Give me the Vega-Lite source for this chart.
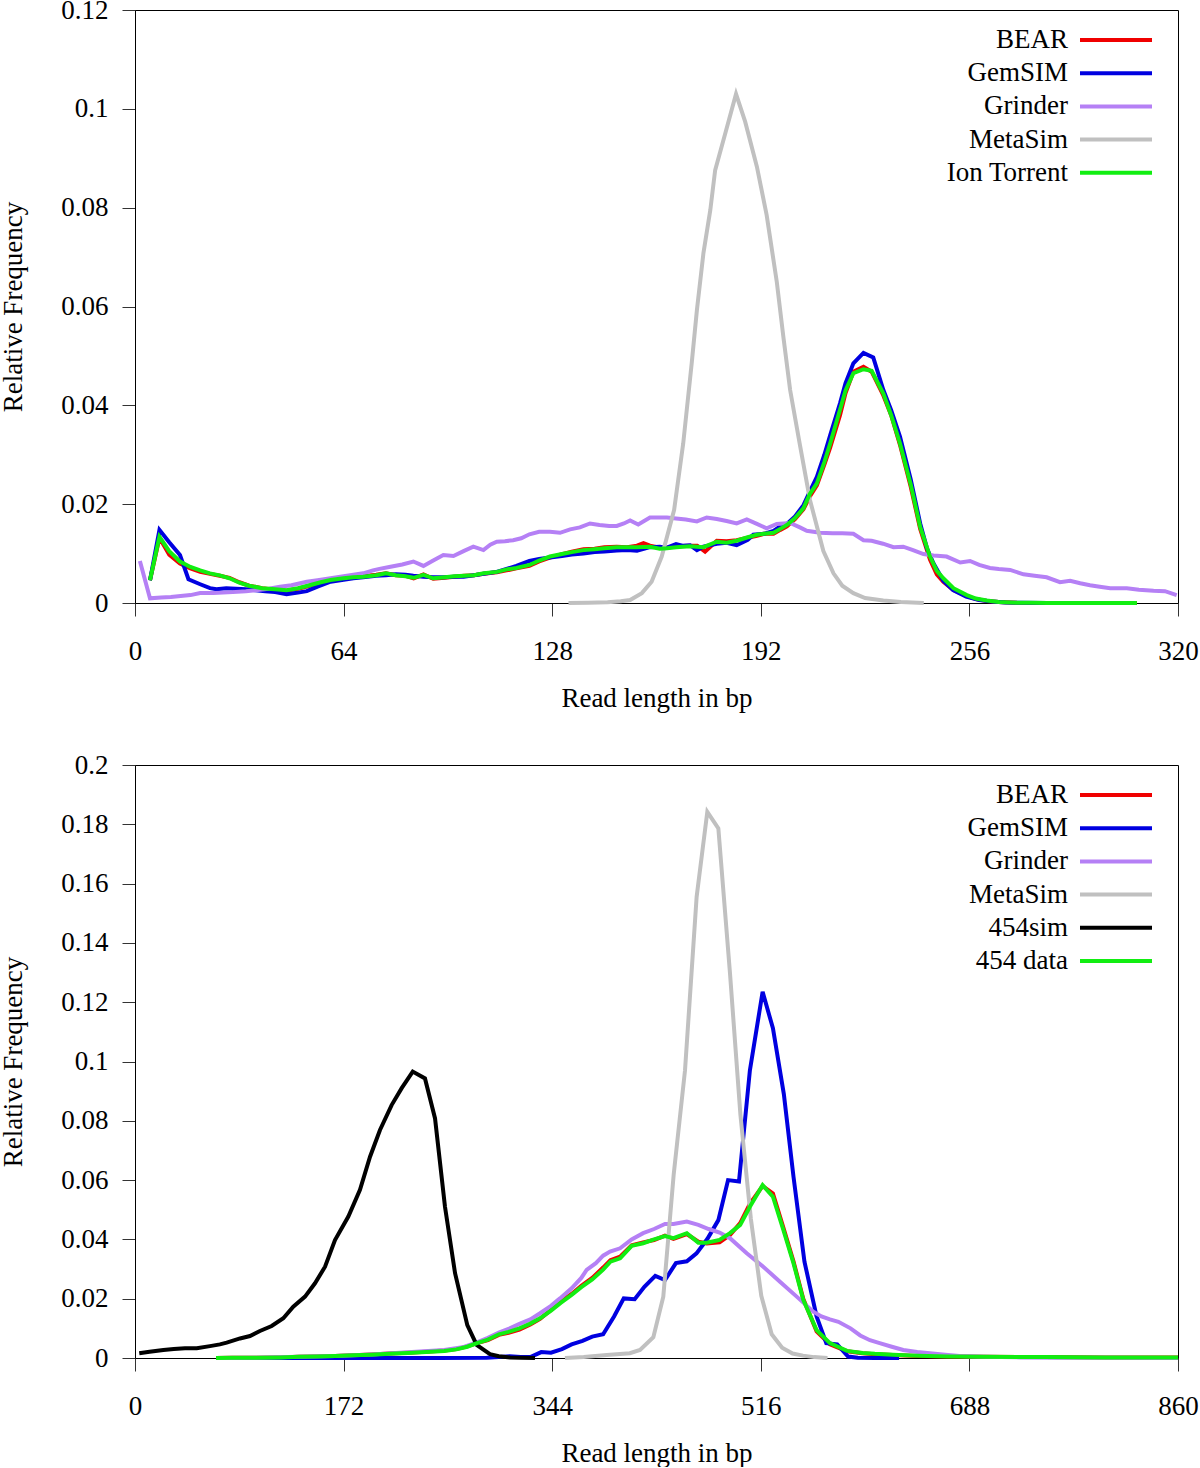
{
"$schema":"https://vega.github.io/schema/vega-lite/v6.json",
"padding":{"left":-1,"top":-5,"right":0,"bottom":0},
"config":{
 "font":"Liberation Serif",
 "view":{"stroke":"black","strokeWidth":1},
 "axis":{"grid":false,"domainColor":"black","tickColor":"#333","labelColor":"black","titleColor":"black","labelFontSize":27,"titleFontSize":27,"titleFontWeight":"normal","labelFont":"Liberation Serif","titleFont":"Liberation Serif","tickSize":13,"domainWidth":1,"tickWidth":1},
 "axisX":{"labelPadding":22,"titlePadding":21,"labelFlush":false},
 "axisY":{"labelPadding":14,"titlePadding":33},
 "legend":{"orient":"none","legendX":967,"legendY":16,"symbolType":"M-3,0L3,0","symbolSize":576,"symbolStrokeWidth":4,"labelAlign":"right","labelOffset":-62,"labelFontSize":27,"labelFont":"Liberation Serif","labelColor":"black","rowPadding":6.2,"padding":0,"labelLimit":0}
},
"datasets":{
"top":[
{"s":"BEAR","x":4.6,"y":0.0046},{"s":"BEAR","x":7.5,"y":0.0132},{"s":"BEAR","x":10.5,"y":0.0098},{"s":"BEAR","x":13.8,"y":0.008},{"s":"BEAR","x":17,"y":0.007},{"s":"BEAR","x":20,"y":0.0063},{"s":"BEAR","x":23,"y":0.0059},{"s":"BEAR","x":26,"y":0.0055},{"s":"BEAR","x":29,"y":0.0051},{"s":"BEAR","x":32,"y":0.0042},{"s":"BEAR","x":35,"y":0.0035},{"s":"BEAR","x":39,"y":0.003},{"s":"BEAR","x":43,"y":0.0027},{"s":"BEAR","x":46.5,"y":0.0025},{"s":"BEAR","x":50,"y":0.0029},{"s":"BEAR","x":53,"y":0.0034},{"s":"BEAR","x":57,"y":0.0041},{"s":"BEAR","x":60,"y":0.0046},{"s":"BEAR","x":64,"y":0.005},{"s":"BEAR","x":67,"y":0.0052},{"s":"BEAR","x":70,"y":0.0054},{"s":"BEAR","x":74,"y":0.0057},{"s":"BEAR","x":77,"y":0.006},{"s":"BEAR","x":80,"y":0.0056},{"s":"BEAR","x":83,"y":0.0055},{"s":"BEAR","x":85.5,"y":0.005},{"s":"BEAR","x":88.5,"y":0.0058},{"s":"BEAR","x":91.5,"y":0.0049},{"s":"BEAR","x":95,"y":0.0051},{"s":"BEAR","x":98,"y":0.0053},{"s":"BEAR","x":101,"y":0.0055},{"s":"BEAR","x":104,"y":0.0056},{"s":"BEAR","x":107,"y":0.0059},{"s":"BEAR","x":111,"y":0.0062},{"s":"BEAR","x":114,"y":0.0066},{"s":"BEAR","x":117,"y":0.007},{"s":"BEAR","x":121,"y":0.0075},{"s":"BEAR","x":124,"y":0.0084},{"s":"BEAR","x":127.3,"y":0.0092},{"s":"BEAR","x":131,"y":0.0099},{"s":"BEAR","x":134,"y":0.0104},{"s":"BEAR","x":137.6,"y":0.0109},{"s":"BEAR","x":141,"y":0.011},{"s":"BEAR","x":144,"y":0.0113},{"s":"BEAR","x":147.8,"y":0.0114},{"s":"BEAR","x":151,"y":0.0113},{"s":"BEAR","x":154,"y":0.0116},{"s":"BEAR","x":156,"y":0.0121},{"s":"BEAR","x":158,"y":0.0116},{"s":"BEAR","x":161,"y":0.0112},{"s":"BEAR","x":163.2,"y":0.0112},{"s":"BEAR","x":166,"y":0.0115},{"s":"BEAR","x":170.3,"y":0.0116},{"s":"BEAR","x":172.5,"y":0.0116},{"s":"BEAR","x":174.9,"y":0.0104},{"s":"BEAR","x":178.5,"y":0.0126},{"s":"BEAR","x":181.5,"y":0.0125},{"s":"BEAR","x":184.6,"y":0.0127},{"s":"BEAR","x":188,"y":0.0132},{"s":"BEAR","x":190.8,"y":0.0136},{"s":"BEAR","x":193,"y":0.014},{"s":"BEAR","x":195.9,"y":0.014},{"s":"BEAR","x":198,"y":0.0148},{"s":"BEAR","x":200,"y":0.0155},{"s":"BEAR","x":202.5,"y":0.017},{"s":"BEAR","x":205.1,"y":0.019},{"s":"BEAR","x":207,"y":0.0215},{"s":"BEAR","x":209.2,"y":0.0238},{"s":"BEAR","x":211.5,"y":0.028},{"s":"BEAR","x":213.3,"y":0.0315},{"s":"BEAR","x":216.3,"y":0.038},{"s":"BEAR","x":218,"y":0.0425},{"s":"BEAR","x":220.4,"y":0.0468},{"s":"BEAR","x":223.5,"y":0.0478},{"s":"BEAR","x":226,"y":0.0468},{"s":"BEAR","x":229.6,"y":0.042},{"s":"BEAR","x":232,"y":0.038},{"s":"BEAR","x":234.7,"y":0.032},{"s":"BEAR","x":238,"y":0.0235},{"s":"BEAR","x":240.9,"y":0.015},{"s":"BEAR","x":243.9,"y":0.0088},{"s":"BEAR","x":246,"y":0.0058},{"s":"BEAR","x":248,"y":0.0043},{"s":"BEAR","x":251.1,"y":0.0026},{"s":"BEAR","x":255.2,"y":0.0014},{"s":"BEAR","x":258,"y":0.0008},{"s":"BEAR","x":261.3,"y":0.0004},{"s":"BEAR","x":265,"y":0.0002},{"s":"BEAR","x":270.5,"y":0.00005},{"s":"BEAR","x":280,"y":0.00001},{"s":"BEAR","x":290,"y":0},{"s":"BEAR","x":307.4,"y":0},
{"s":"GemSIM","x":4.6,"y":0.0046},{"s":"GemSIM","x":7.5,"y":0.0148},{"s":"GemSIM","x":10.5,"y":0.0123},{"s":"GemSIM","x":13.8,"y":0.0097},{"s":"GemSIM","x":16.4,"y":0.0048},{"s":"GemSIM","x":20,"y":0.0038},{"s":"GemSIM","x":23,"y":0.003},{"s":"GemSIM","x":25,"y":0.0028},{"s":"GemSIM","x":28,"y":0.003},{"s":"GemSIM","x":31,"y":0.0029},{"s":"GemSIM","x":34,"y":0.0028},{"s":"GemSIM","x":37,"y":0.0026},{"s":"GemSIM","x":40,"y":0.0024},{"s":"GemSIM","x":43,"y":0.0022},{"s":"GemSIM","x":46.5,"y":0.0018},{"s":"GemSIM","x":50,"y":0.0021},{"s":"GemSIM","x":52.7,"y":0.0024},{"s":"GemSIM","x":56,"y":0.0033},{"s":"GemSIM","x":60,"y":0.0043},{"s":"GemSIM","x":64,"y":0.0047},{"s":"GemSIM","x":67,"y":0.005},{"s":"GemSIM","x":70,"y":0.0052},{"s":"GemSIM","x":74,"y":0.0055},{"s":"GemSIM","x":77,"y":0.0056},{"s":"GemSIM","x":80,"y":0.0058},{"s":"GemSIM","x":83,"y":0.0057},{"s":"GemSIM","x":85.4,"y":0.0055},{"s":"GemSIM","x":88.5,"y":0.0053},{"s":"GemSIM","x":91.5,"y":0.0052},{"s":"GemSIM","x":95,"y":0.0052},{"s":"GemSIM","x":98,"y":0.0053},{"s":"GemSIM","x":100.8,"y":0.0053},{"s":"GemSIM","x":104,"y":0.0056},{"s":"GemSIM","x":107,"y":0.0059},{"s":"GemSIM","x":111,"y":0.0063},{"s":"GemSIM","x":114,"y":0.0069},{"s":"GemSIM","x":117,"y":0.0075},{"s":"GemSIM","x":121,"y":0.0085},{"s":"GemSIM","x":124,"y":0.0089},{"s":"GemSIM","x":127.3,"y":0.0092},{"s":"GemSIM","x":131,"y":0.0095},{"s":"GemSIM","x":134,"y":0.0098},{"s":"GemSIM","x":137.6,"y":0.01},{"s":"GemSIM","x":141,"y":0.0103},{"s":"GemSIM","x":144,"y":0.0104},{"s":"GemSIM","x":147.8,"y":0.0106},{"s":"GemSIM","x":151,"y":0.0107},{"s":"GemSIM","x":154,"y":0.0106},{"s":"GemSIM","x":158,"y":0.0113},{"s":"GemSIM","x":161,"y":0.0114},{"s":"GemSIM","x":163.2,"y":0.0112},{"s":"GemSIM","x":166,"y":0.0119},{"s":"GemSIM","x":168,"y":0.0116},{"s":"GemSIM","x":170.3,"y":0.0117},{"s":"GemSIM","x":172.4,"y":0.0107},{"s":"GemSIM","x":174.4,"y":0.0114},{"s":"GemSIM","x":178.5,"y":0.012},{"s":"GemSIM","x":181.5,"y":0.0122},{"s":"GemSIM","x":184.6,"y":0.0117},{"s":"GemSIM","x":188,"y":0.0128},{"s":"GemSIM","x":189.7,"y":0.0138},{"s":"GemSIM","x":193,"y":0.014},{"s":"GemSIM","x":195.9,"y":0.0146},{"s":"GemSIM","x":198,"y":0.0155},{"s":"GemSIM","x":200,"y":0.016},{"s":"GemSIM","x":202.5,"y":0.0175},{"s":"GemSIM","x":205.1,"y":0.0198},{"s":"GemSIM","x":207,"y":0.0225},{"s":"GemSIM","x":209.2,"y":0.0255},{"s":"GemSIM","x":211.5,"y":0.03},{"s":"GemSIM","x":213.3,"y":0.034},{"s":"GemSIM","x":216.3,"y":0.0404},{"s":"GemSIM","x":218,"y":0.0445},{"s":"GemSIM","x":220.4,"y":0.0485},{"s":"GemSIM","x":223.5,"y":0.0506},{"s":"GemSIM","x":226.5,"y":0.0497},{"s":"GemSIM","x":229.6,"y":0.0431},{"s":"GemSIM","x":232,"y":0.039},{"s":"GemSIM","x":234.7,"y":0.0337},{"s":"GemSIM","x":238,"y":0.025},{"s":"GemSIM","x":240.9,"y":0.0161},{"s":"GemSIM","x":243,"y":0.011},{"s":"GemSIM","x":245,"y":0.008},{"s":"GemSIM","x":248,"y":0.0045},{"s":"GemSIM","x":251,"y":0.0026},{"s":"GemSIM","x":255,"y":0.0013},{"s":"GemSIM","x":259,"y":0.0006},{"s":"GemSIM","x":263,"y":0.0003},{"s":"GemSIM","x":267,"y":0.0001},{"s":"GemSIM","x":272,"y":0.00003},{"s":"GemSIM","x":280,"y":0},
{"s":"Grinder","x":1.5,"y":0.0085},{"s":"Grinder","x":4.6,"y":0.00095},{"s":"Grinder","x":8,"y":0.0011},{"s":"Grinder","x":11,"y":0.0012},{"s":"Grinder","x":14,"y":0.0014},{"s":"Grinder","x":17,"y":0.0016},{"s":"Grinder","x":20,"y":0.002},{"s":"Grinder","x":24,"y":0.002},{"s":"Grinder","x":27,"y":0.0021},{"s":"Grinder","x":30,"y":0.0022},{"s":"Grinder","x":34,"y":0.0024},{"s":"Grinder","x":37,"y":0.0026},{"s":"Grinder","x":41,"y":0.0029},{"s":"Grinder","x":44.5,"y":0.0033},{"s":"Grinder","x":48,"y":0.0036},{"s":"Grinder","x":52.7,"y":0.0043},{"s":"Grinder","x":56,"y":0.0046},{"s":"Grinder","x":60,"y":0.005},{"s":"Grinder","x":63,"y":0.0053},{"s":"Grinder","x":66,"y":0.0056},{"s":"Grinder","x":70,"y":0.006},{"s":"Grinder","x":73,"y":0.0066},{"s":"Grinder","x":75,"y":0.0069},{"s":"Grinder","x":78,"y":0.0073},{"s":"Grinder","x":82,"y":0.0078},{"s":"Grinder","x":85.4,"y":0.0084},{"s":"Grinder","x":88.5,"y":0.0075},{"s":"Grinder","x":91.5,"y":0.0086},{"s":"Grinder","x":94.6,"y":0.0097},{"s":"Grinder","x":97.7,"y":0.0095},{"s":"Grinder","x":100.8,"y":0.0105},{"s":"Grinder","x":103.8,"y":0.0114},{"s":"Grinder","x":106.9,"y":0.0107},{"s":"Grinder","x":109,"y":0.0118},{"s":"Grinder","x":111,"y":0.0124},{"s":"Grinder","x":113.5,"y":0.0125},{"s":"Grinder","x":116,"y":0.0127},{"s":"Grinder","x":118.5,"y":0.0131},{"s":"Grinder","x":121,"y":0.0139},{"s":"Grinder","x":124,"y":0.0144},{"s":"Grinder","x":127.3,"y":0.0144},{"s":"Grinder","x":130.4,"y":0.0142},{"s":"Grinder","x":133.5,"y":0.0149},{"s":"Grinder","x":136.5,"y":0.0153},{"s":"Grinder","x":139.6,"y":0.0161},{"s":"Grinder","x":142.5,"y":0.0158},{"s":"Grinder","x":145.5,"y":0.0156},{"s":"Grinder","x":147.8,"y":0.0156},{"s":"Grinder","x":150,"y":0.0161},{"s":"Grinder","x":151.9,"y":0.0167},{"s":"Grinder","x":154.4,"y":0.0159},{"s":"Grinder","x":158,"y":0.0173},{"s":"Grinder","x":161,"y":0.0173},{"s":"Grinder","x":163.2,"y":0.0173},{"s":"Grinder","x":166,"y":0.0171},{"s":"Grinder","x":169,"y":0.0169},{"s":"Grinder","x":172.4,"y":0.0165},{"s":"Grinder","x":175.4,"y":0.0173},{"s":"Grinder","x":178.5,"y":0.017},{"s":"Grinder","x":181.5,"y":0.0166},{"s":"Grinder","x":184.6,"y":0.0161},{"s":"Grinder","x":187.7,"y":0.0169},{"s":"Grinder","x":190.8,"y":0.016},{"s":"Grinder","x":193.8,"y":0.0151},{"s":"Grinder","x":196.9,"y":0.016},{"s":"Grinder","x":201,"y":0.0162},{"s":"Grinder","x":204,"y":0.0153},{"s":"Grinder","x":206.1,"y":0.0146},{"s":"Grinder","x":210.2,"y":0.0142},{"s":"Grinder","x":214,"y":0.0141},{"s":"Grinder","x":217,"y":0.0141},{"s":"Grinder","x":220.4,"y":0.014},{"s":"Grinder","x":223.5,"y":0.0127},{"s":"Grinder","x":226,"y":0.0126},{"s":"Grinder","x":229.5,"y":0.012},{"s":"Grinder","x":232.7,"y":0.0113},{"s":"Grinder","x":235.7,"y":0.0114},{"s":"Grinder","x":238.7,"y":0.0107},{"s":"Grinder","x":241.9,"y":0.0099},{"s":"Grinder","x":245,"y":0.0096},{"s":"Grinder","x":249,"y":0.0094},{"s":"Grinder","x":253.2,"y":0.0082},{"s":"Grinder","x":256.2,"y":0.0085},{"s":"Grinder","x":259,"y":0.0077},{"s":"Grinder","x":262.3,"y":0.0071},{"s":"Grinder","x":265,"y":0.0069},{"s":"Grinder","x":268.5,"y":0.0067},{"s":"Grinder","x":272.6,"y":0.0058},{"s":"Grinder","x":276,"y":0.0055},{"s":"Grinder","x":279.7,"y":0.0052},{"s":"Grinder","x":283.8,"y":0.0042},{"s":"Grinder","x":286.9,"y":0.0045},{"s":"Grinder","x":290,"y":0.004},{"s":"Grinder","x":293,"y":0.0036},{"s":"Grinder","x":296,"y":0.0033},{"s":"Grinder","x":299.2,"y":0.003},{"s":"Grinder","x":302,"y":0.003},{"s":"Grinder","x":304.3,"y":0.003},{"s":"Grinder","x":308,"y":0.0027},{"s":"Grinder","x":312.5,"y":0.0025},{"s":"Grinder","x":316,"y":0.0024},{"s":"Grinder","x":319.6,"y":0.0016},
{"s":"MetaSim","x":133,"y":0},{"s":"MetaSim","x":139,"y":0.00005},{"s":"MetaSim","x":145,"y":0.00015},{"s":"MetaSim","x":149,"y":0.00035},{"s":"MetaSim","x":151.9,"y":0.0006},{"s":"MetaSim","x":155.5,"y":0.002},{"s":"MetaSim","x":158.5,"y":0.0043},{"s":"MetaSim","x":161.6,"y":0.0094},{"s":"MetaSim","x":165.4,"y":0.0188},{"s":"MetaSim","x":168.2,"y":0.0323},{"s":"MetaSim","x":170.8,"y":0.0485},{"s":"MetaSim","x":172.4,"y":0.0593},{"s":"MetaSim","x":174.4,"y":0.0708},{"s":"MetaSim","x":176.5,"y":0.0795},{"s":"MetaSim","x":178,"y":0.0876},{"s":"MetaSim","x":181.3,"y":0.0955},{"s":"MetaSim","x":184.4,"y":0.103},{"s":"MetaSim","x":187.2,"y":0.0974},{"s":"MetaSim","x":190.8,"y":0.0883},{"s":"MetaSim","x":193.8,"y":0.0785},{"s":"MetaSim","x":196.9,"y":0.065},{"s":"MetaSim","x":198.9,"y":0.054},{"s":"MetaSim","x":201,"y":0.0431},{"s":"MetaSim","x":204,"y":0.032},{"s":"MetaSim","x":207.1,"y":0.0208},{"s":"MetaSim","x":211.2,"y":0.0105},{"s":"MetaSim","x":214.3,"y":0.006},{"s":"MetaSim","x":217,"y":0.0035},{"s":"MetaSim","x":220.4,"y":0.002},{"s":"MetaSim","x":224,"y":0.001},{"s":"MetaSim","x":229.6,"y":0.0005},{"s":"MetaSim","x":235,"y":0.0002},{"s":"MetaSim","x":242,"y":0},
{"s":"Ion Torrent","x":4.6,"y":0.0046},{"s":"Ion Torrent","x":7.5,"y":0.0134},{"s":"Ion Torrent","x":10.5,"y":0.0105},{"s":"Ion Torrent","x":13.8,"y":0.0084},{"s":"Ion Torrent","x":17,"y":0.0073},{"s":"Ion Torrent","x":20,"y":0.0066},{"s":"Ion Torrent","x":23,"y":0.006},{"s":"Ion Torrent","x":26,"y":0.0056},{"s":"Ion Torrent","x":29,"y":0.005},{"s":"Ion Torrent","x":32,"y":0.0041},{"s":"Ion Torrent","x":35,"y":0.0035},{"s":"Ion Torrent","x":39,"y":0.003},{"s":"Ion Torrent","x":43,"y":0.0028},{"s":"Ion Torrent","x":46.5,"y":0.0026},{"s":"Ion Torrent","x":50,"y":0.003},{"s":"Ion Torrent","x":53,"y":0.0035},{"s":"Ion Torrent","x":57,"y":0.0042},{"s":"Ion Torrent","x":60,"y":0.00465},{"s":"Ion Torrent","x":64,"y":0.005},{"s":"Ion Torrent","x":67,"y":0.0052},{"s":"Ion Torrent","x":70,"y":0.0053},{"s":"Ion Torrent","x":74,"y":0.0056},{"s":"Ion Torrent","x":77,"y":0.006},{"s":"Ion Torrent","x":80,"y":0.0056},{"s":"Ion Torrent","x":83,"y":0.0054},{"s":"Ion Torrent","x":85.5,"y":0.0051},{"s":"Ion Torrent","x":88.5,"y":0.0057},{"s":"Ion Torrent","x":91.5,"y":0.005},{"s":"Ion Torrent","x":95,"y":0.0052},{"s":"Ion Torrent","x":98,"y":0.0054},{"s":"Ion Torrent","x":101,"y":0.0055},{"s":"Ion Torrent","x":104,"y":0.0056},{"s":"Ion Torrent","x":107,"y":0.006},{"s":"Ion Torrent","x":111,"y":0.0063},{"s":"Ion Torrent","x":114,"y":0.0068},{"s":"Ion Torrent","x":117,"y":0.0071},{"s":"Ion Torrent","x":121,"y":0.0077},{"s":"Ion Torrent","x":124,"y":0.0086},{"s":"Ion Torrent","x":127.3,"y":0.0094},{"s":"Ion Torrent","x":131,"y":0.0099},{"s":"Ion Torrent","x":134,"y":0.0103},{"s":"Ion Torrent","x":137.6,"y":0.0107},{"s":"Ion Torrent","x":141,"y":0.0109},{"s":"Ion Torrent","x":144,"y":0.0111},{"s":"Ion Torrent","x":147.8,"y":0.0113},{"s":"Ion Torrent","x":151,"y":0.0113},{"s":"Ion Torrent","x":154,"y":0.0113},{"s":"Ion Torrent","x":158,"y":0.0114},{"s":"Ion Torrent","x":161,"y":0.011},{"s":"Ion Torrent","x":163.2,"y":0.0111},{"s":"Ion Torrent","x":166,"y":0.0113},{"s":"Ion Torrent","x":170.3,"y":0.0115},{"s":"Ion Torrent","x":174.4,"y":0.0113},{"s":"Ion Torrent","x":178.5,"y":0.0124},{"s":"Ion Torrent","x":181.5,"y":0.0122},{"s":"Ion Torrent","x":184.6,"y":0.0126},{"s":"Ion Torrent","x":188,"y":0.0133},{"s":"Ion Torrent","x":190.8,"y":0.0138},{"s":"Ion Torrent","x":193,"y":0.014},{"s":"Ion Torrent","x":195.9,"y":0.0142},{"s":"Ion Torrent","x":198,"y":0.015},{"s":"Ion Torrent","x":200,"y":0.0158},{"s":"Ion Torrent","x":202.5,"y":0.0172},{"s":"Ion Torrent","x":205.1,"y":0.0192},{"s":"Ion Torrent","x":207,"y":0.022},{"s":"Ion Torrent","x":209.2,"y":0.0242},{"s":"Ion Torrent","x":211.5,"y":0.0285},{"s":"Ion Torrent","x":213.3,"y":0.0323},{"s":"Ion Torrent","x":216.3,"y":0.0391},{"s":"Ion Torrent","x":218,"y":0.043},{"s":"Ion Torrent","x":220.4,"y":0.0465},{"s":"Ion Torrent","x":223.5,"y":0.0473},{"s":"Ion Torrent","x":226,"y":0.047},{"s":"Ion Torrent","x":229.6,"y":0.0424},{"s":"Ion Torrent","x":232,"y":0.038},{"s":"Ion Torrent","x":234.7,"y":0.0323},{"s":"Ion Torrent","x":238,"y":0.024},{"s":"Ion Torrent","x":240.9,"y":0.0154},{"s":"Ion Torrent","x":243.9,"y":0.0094},{"s":"Ion Torrent","x":246,"y":0.0065},{"s":"Ion Torrent","x":248,"y":0.005},{"s":"Ion Torrent","x":251.1,"y":0.003},{"s":"Ion Torrent","x":255.2,"y":0.0016},{"s":"Ion Torrent","x":258,"y":0.0009},{"s":"Ion Torrent","x":261.3,"y":0.0005},{"s":"Ion Torrent","x":265,"y":0.0002},{"s":"Ion Torrent","x":270.5,"y":0.00006},{"s":"Ion Torrent","x":275,"y":0.00003},{"s":"Ion Torrent","x":280,"y":0.00001},{"s":"Ion Torrent","x":290,"y":0},{"s":"Ion Torrent","x":300,"y":0},{"s":"Ion Torrent","x":307.4,"y":0}
],
"bottom":[
{"s":"BEAR","x":66.8,"y":0},{"s":"BEAR","x":80,"y":0.00005},{"s":"BEAR","x":100,"y":0.0001},{"s":"BEAR","x":120,"y":0.0002},{"s":"BEAR","x":135,"y":0.0004},{"s":"BEAR","x":150,"y":0.0005},{"s":"BEAR","x":165,"y":0.0007},{"s":"BEAR","x":180,"y":0.0009},{"s":"BEAR","x":195,"y":0.0012},{"s":"BEAR","x":210,"y":0.0015},{"s":"BEAR","x":225,"y":0.0018},{"s":"BEAR","x":240,"y":0.0021},{"s":"BEAR","x":255,"y":0.0025},{"s":"BEAR","x":265,"y":0.003},{"s":"BEAR","x":274,"y":0.0039},{"s":"BEAR","x":282,"y":0.005},{"s":"BEAR","x":291,"y":0.006},{"s":"BEAR","x":300,"y":0.0078},{"s":"BEAR","x":308,"y":0.0085},{"s":"BEAR","x":317,"y":0.0096},{"s":"BEAR","x":326,"y":0.0113},{"s":"BEAR","x":334,"y":0.0132},{"s":"BEAR","x":343,"y":0.0162},{"s":"BEAR","x":351,"y":0.019},{"s":"BEAR","x":360,"y":0.0216},{"s":"BEAR","x":368,"y":0.0243},{"s":"BEAR","x":377,"y":0.027},{"s":"BEAR","x":386,"y":0.0305},{"s":"BEAR","x":392,"y":0.033},{"s":"BEAR","x":400,"y":0.0342},{"s":"BEAR","x":409.5,"y":0.038},{"s":"BEAR","x":419,"y":0.039},{"s":"BEAR","x":428,"y":0.0398},{"s":"BEAR","x":437,"y":0.0413},{"s":"BEAR","x":444,"y":0.0402},{"s":"BEAR","x":455,"y":0.0418},{"s":"BEAR","x":464.5,"y":0.0392},{"s":"BEAR","x":471.4,"y":0.0386},{"s":"BEAR","x":482,"y":0.039},{"s":"BEAR","x":490.6,"y":0.0415},{"s":"BEAR","x":499,"y":0.0455},{"s":"BEAR","x":507,"y":0.052},{"s":"BEAR","x":517.5,"y":0.058},{"s":"BEAR","x":526,"y":0.0555},{"s":"BEAR","x":534.6,"y":0.044},{"s":"BEAR","x":543,"y":0.0325},{"s":"BEAR","x":551,"y":0.02},{"s":"BEAR","x":562,"y":0.009},{"s":"BEAR","x":573,"y":0.0046},{"s":"BEAR","x":587,"y":0.0023},{"s":"BEAR","x":600,"y":0.0016},{"s":"BEAR","x":610,"y":0.0013},{"s":"BEAR","x":625,"y":0.001},{"s":"BEAR","x":645,"y":0.0007},{"s":"BEAR","x":670,"y":0.0005},{"s":"BEAR","x":700,"y":0.0004},{"s":"BEAR","x":750,"y":0.0003},{"s":"BEAR","x":800,"y":0.0002},{"s":"BEAR","x":860,"y":0.0002},
{"s":"GemSIM","x":66.8,"y":0},{"s":"GemSIM","x":100,"y":0},{"s":"GemSIM","x":150,"y":0},{"s":"GemSIM","x":200,"y":0},{"s":"GemSIM","x":250,"y":0},{"s":"GemSIM","x":290,"y":0.0001},{"s":"GemSIM","x":300,"y":0.0003},{"s":"GemSIM","x":309,"y":0.0006},{"s":"GemSIM","x":318,"y":0.0003},{"s":"GemSIM","x":326,"y":0.0003},{"s":"GemSIM","x":335,"y":0.002},{"s":"GemSIM","x":343,"y":0.0018},{"s":"GemSIM","x":352,"y":0.003},{"s":"GemSIM","x":360,"y":0.0046},{"s":"GemSIM","x":369,"y":0.0058},{"s":"GemSIM","x":377,"y":0.0072},{"s":"GemSIM","x":386,"y":0.008},{"s":"GemSIM","x":395,"y":0.014},{"s":"GemSIM","x":403,"y":0.0201},{"s":"GemSIM","x":412,"y":0.0198},{"s":"GemSIM","x":420,"y":0.024},{"s":"GemSIM","x":429,"y":0.0277},{"s":"GemSIM","x":437,"y":0.0263},{"s":"GemSIM","x":446,"y":0.032},{"s":"GemSIM","x":455,"y":0.0326},{"s":"GemSIM","x":463,"y":0.0353},{"s":"GemSIM","x":472,"y":0.0402},{"s":"GemSIM","x":481,"y":0.0465},{"s":"GemSIM","x":489,"y":0.06},{"s":"GemSIM","x":498,"y":0.0595},{"s":"GemSIM","x":507,"y":0.097},{"s":"GemSIM","x":517.5,"y":0.1235},{"s":"GemSIM","x":526,"y":0.1112},{"s":"GemSIM","x":535,"y":0.089},{"s":"GemSIM","x":543,"y":0.061},{"s":"GemSIM","x":552,"y":0.0325},{"s":"GemSIM","x":562,"y":0.014},{"s":"GemSIM","x":570,"y":0.005},{"s":"GemSIM","x":579,"y":0.0046},{"s":"GemSIM","x":588,"y":0.0005},{"s":"GemSIM","x":596,"y":0.0001},{"s":"GemSIM","x":610,"y":0},{"s":"GemSIM","x":630,"y":0},
{"s":"Grinder","x":66.8,"y":0},{"s":"Grinder","x":100,"y":0.0001},{"s":"Grinder","x":135,"y":0.0004},{"s":"Grinder","x":165,"y":0.0007},{"s":"Grinder","x":195,"y":0.0012},{"s":"Grinder","x":225,"y":0.0019},{"s":"Grinder","x":255,"y":0.0027},{"s":"Grinder","x":270,"y":0.0036},{"s":"Grinder","x":282,"y":0.0053},{"s":"Grinder","x":291,"y":0.0068},{"s":"Grinder","x":300,"y":0.0086},{"s":"Grinder","x":309,"y":0.01},{"s":"Grinder","x":317,"y":0.0115},{"s":"Grinder","x":326,"y":0.013},{"s":"Grinder","x":334,"y":0.0151},{"s":"Grinder","x":343,"y":0.0176},{"s":"Grinder","x":350.4,"y":0.0201},{"s":"Grinder","x":360,"y":0.0235},{"s":"Grinder","x":368,"y":0.027},{"s":"Grinder","x":372.4,"y":0.0297},{"s":"Grinder","x":380,"y":0.032},{"s":"Grinder","x":386,"y":0.0345},{"s":"Grinder","x":391.7,"y":0.0359},{"s":"Grinder","x":400,"y":0.037},{"s":"Grinder","x":409.5,"y":0.04},{"s":"Grinder","x":419,"y":0.0421},{"s":"Grinder","x":428,"y":0.0435},{"s":"Grinder","x":437,"y":0.0452},{"s":"Grinder","x":444,"y":0.0452},{"s":"Grinder","x":455,"y":0.046},{"s":"Grinder","x":464.5,"y":0.0449},{"s":"Grinder","x":473,"y":0.0435},{"s":"Grinder","x":482,"y":0.0423},{"s":"Grinder","x":490.6,"y":0.0404},{"s":"Grinder","x":504.4,"y":0.0353},{"s":"Grinder","x":518,"y":0.0308},{"s":"Grinder","x":531.8,"y":0.0257},{"s":"Grinder","x":545.6,"y":0.0207},{"s":"Grinder","x":559.3,"y":0.0156},{"s":"Grinder","x":566,"y":0.014},{"s":"Grinder","x":573,"y":0.013},{"s":"Grinder","x":580,"y":0.0122},{"s":"Grinder","x":590,"y":0.01},{"s":"Grinder","x":598,"y":0.0076},{"s":"Grinder","x":606,"y":0.006},{"s":"Grinder","x":614,"y":0.005},{"s":"Grinder","x":624,"y":0.0038},{"s":"Grinder","x":633.5,"y":0.0027},{"s":"Grinder","x":645,"y":0.002},{"s":"Grinder","x":655.5,"y":0.0016},{"s":"Grinder","x":668,"y":0.0011},{"s":"Grinder","x":680,"y":0.0007},{"s":"Grinder","x":700,"y":0.0004},{"s":"Grinder","x":730,"y":0.0002},{"s":"Grinder","x":760,"y":0.0001},{"s":"Grinder","x":800,"y":0.00005},{"s":"Grinder","x":860,"y":0},
{"s":"MetaSim","x":354.5,"y":0},{"s":"MetaSim","x":370,"y":0.0003},{"s":"MetaSim","x":389,"y":0.001},{"s":"MetaSim","x":408,"y":0.0016},{"s":"MetaSim","x":416.4,"y":0.0027},{"s":"MetaSim","x":427.4,"y":0.007},{"s":"MetaSim","x":435.6,"y":0.0207},{"s":"MetaSim","x":444.2,"y":0.062},{"s":"MetaSim","x":453.5,"y":0.097},{"s":"MetaSim","x":463.1,"y":0.1556},{"s":"MetaSim","x":471.9,"y":0.1842},{"s":"MetaSim","x":481,"y":0.1786},{"s":"MetaSim","x":490.6,"y":0.1297},{"s":"MetaSim","x":499.2,"y":0.082},{"s":"MetaSim","x":507.8,"y":0.047},{"s":"MetaSim","x":516.4,"y":0.021},{"s":"MetaSim","x":525,"y":0.008},{"s":"MetaSim","x":533.6,"y":0.0035},{"s":"MetaSim","x":542.2,"y":0.0015},{"s":"MetaSim","x":550.8,"y":0.0008},{"s":"MetaSim","x":560,"y":0.0003},{"s":"MetaSim","x":571,"y":0},
{"s":"454sim","x":3.5,"y":0.0016},{"s":"454sim","x":12,"y":0.0021},{"s":"454sim","x":23.4,"y":0.0027},{"s":"454sim","x":32,"y":0.003},{"s":"454sim","x":41.2,"y":0.0033},{"s":"454sim","x":50.9,"y":0.0033},{"s":"454sim","x":61.8,"y":0.004},{"s":"454sim","x":70,"y":0.0046},{"s":"454sim","x":75.6,"y":0.0052},{"s":"454sim","x":86.6,"y":0.0066},{"s":"454sim","x":94.8,"y":0.0074},{"s":"454sim","x":103,"y":0.0091},{"s":"454sim","x":112.7,"y":0.0108},{"s":"454sim","x":122.3,"y":0.0134},{"s":"454sim","x":130.5,"y":0.0173},{"s":"454sim","x":140.2,"y":0.0207},{"s":"454sim","x":148.4,"y":0.0252},{"s":"454sim","x":156.7,"y":0.0308},{"s":"454sim","x":164.9,"y":0.0398},{"s":"454sim","x":175.9,"y":0.0477},{"s":"454sim","x":185.5,"y":0.0567},{"s":"454sim","x":193.8,"y":0.0679},{"s":"454sim","x":202,"y":0.0769},{"s":"454sim","x":211.6,"y":0.0853},{"s":"454sim","x":219.9,"y":0.091},{"s":"454sim","x":229,"y":0.0966},{"s":"454sim","x":239.1,"y":0.0943},{"s":"454sim","x":247.4,"y":0.0808},{"s":"454sim","x":255.6,"y":0.051},{"s":"454sim","x":263.9,"y":0.0286},{"s":"454sim","x":274,"y":0.0111},{"s":"454sim","x":281.7,"y":0.0044},{"s":"454sim","x":292.7,"y":0.0013},{"s":"454sim","x":300,"y":0.0006},{"s":"454sim","x":309.2,"y":0.0002},{"s":"454sim","x":318,"y":0.0001},{"s":"454sim","x":329.8,"y":0},
{"s":"454 data","x":66.8,"y":0},{"s":"454 data","x":80,"y":0.00005},{"s":"454 data","x":100,"y":0.0001},{"s":"454 data","x":120,"y":0.0002},{"s":"454 data","x":135,"y":0.0004},{"s":"454 data","x":150,"y":0.0005},{"s":"454 data","x":165,"y":0.0007},{"s":"454 data","x":180,"y":0.0009},{"s":"454 data","x":195,"y":0.0011},{"s":"454 data","x":210,"y":0.0014},{"s":"454 data","x":225,"y":0.0017},{"s":"454 data","x":240,"y":0.002},{"s":"454 data","x":255,"y":0.0024},{"s":"454 data","x":265,"y":0.0029},{"s":"454 data","x":274,"y":0.0038},{"s":"454 data","x":282,"y":0.005},{"s":"454 data","x":291,"y":0.0062},{"s":"454 data","x":300,"y":0.008},{"s":"454 data","x":308,"y":0.0088},{"s":"454 data","x":317,"y":0.01},{"s":"454 data","x":326,"y":0.0116},{"s":"454 data","x":334,"y":0.0134},{"s":"454 data","x":343,"y":0.016},{"s":"454 data","x":351,"y":0.0186},{"s":"454 data","x":360,"y":0.0213},{"s":"454 data","x":368,"y":0.0239},{"s":"454 data","x":377,"y":0.0265},{"s":"454 data","x":386,"y":0.0298},{"s":"454 data","x":392,"y":0.0325},{"s":"454 data","x":400,"y":0.0336},{"s":"454 data","x":409.5,"y":0.0378},{"s":"454 data","x":419,"y":0.0387},{"s":"454 data","x":428,"y":0.04},{"s":"454 data","x":437,"y":0.0411},{"s":"454 data","x":444,"y":0.0404},{"s":"454 data","x":455,"y":0.0421},{"s":"454 data","x":464.5,"y":0.0389},{"s":"454 data","x":471.4,"y":0.0389},{"s":"454 data","x":482,"y":0.0398},{"s":"454 data","x":490.6,"y":0.0421},{"s":"454 data","x":499,"y":0.0449},{"s":"454 data","x":507,"y":0.051},{"s":"454 data","x":517.5,"y":0.0583},{"s":"454 data","x":526,"y":0.0544},{"s":"454 data","x":534.6,"y":0.0432},{"s":"454 data","x":543,"y":0.0319},{"s":"454 data","x":551,"y":0.0196},{"s":"454 data","x":562,"y":0.0094},{"s":"454 data","x":573,"y":0.005},{"s":"454 data","x":587,"y":0.0024},{"s":"454 data","x":600,"y":0.0017},{"s":"454 data","x":610,"y":0.0014},{"s":"454 data","x":625,"y":0.0011},{"s":"454 data","x":645,"y":0.0008},{"s":"454 data","x":670,"y":0.0005},{"s":"454 data","x":700,"y":0.0004},{"s":"454 data","x":750,"y":0.0003},{"s":"454 data","x":800,"y":0.0002},{"s":"454 data","x":860,"y":0.0002}
]
},
"vconcat":[
{
 "width":1043,"height":593,
 "data":{"name":"top"},
 "mark":{"type":"line","strokeWidth":4},
 "encoding":{
  "x":{"field":"x","type":"quantitative","scale":{"domain":[0,320],"nice":false,"zero":false},"axis":{"values":[0,64,128,192,256,320],"title":"Read length in bp"}},
  "y":{"field":"y","type":"quantitative","scale":{"domain":[0,0.12],"nice":false},"axis":{"values":[0,0.02,0.04,0.06,0.08,0.1,0.12],"format":".2~f","title":"Relative Frequency"}},
  "color":{"field":"s","type":"nominal","scale":{"domain":["BEAR","GemSIM","Grinder","MetaSim","Ion Torrent"],"range":["#f00000","#0000e0","#b580f5","#c0c0c0","#11ee11"]},"legend":{"title":null,"orient":"none","legendX":967,"legendY":16}}
 }
},
{
 "width":1043,"height":593,
 "data":{"name":"bottom"},
 "mark":{"type":"line","strokeWidth":4},
 "encoding":{
  "x":{"field":"x","type":"quantitative","scale":{"domain":[0,860],"nice":false,"zero":false},"axis":{"values":[0,172,344,516,688,860],"title":"Read length in bp"}},
  "y":{"field":"y","type":"quantitative","scale":{"domain":[0,0.2],"nice":false},"axis":{"values":[0,0.02,0.04,0.06,0.08,0.1,0.12,0.14,0.16,0.18,0.2],"format":".2~f","title":"Relative Frequency"}},
  "color":{"field":"s","type":"nominal","scale":{"domain":["BEAR","GemSIM","Grinder","MetaSim","454sim","454 data"],"range":["#f00000","#0000e0","#b580f5","#c0c0c0","#000000","#11ee11"]},"legend":{"title":null,"orient":"none","legendX":967,"legendY":16}}
 }
}
],
"spacing":38,
"resolve":{"scale":{"color":"independent","x":"independent","y":"independent"},"legend":{"color":"independent"}}
}
